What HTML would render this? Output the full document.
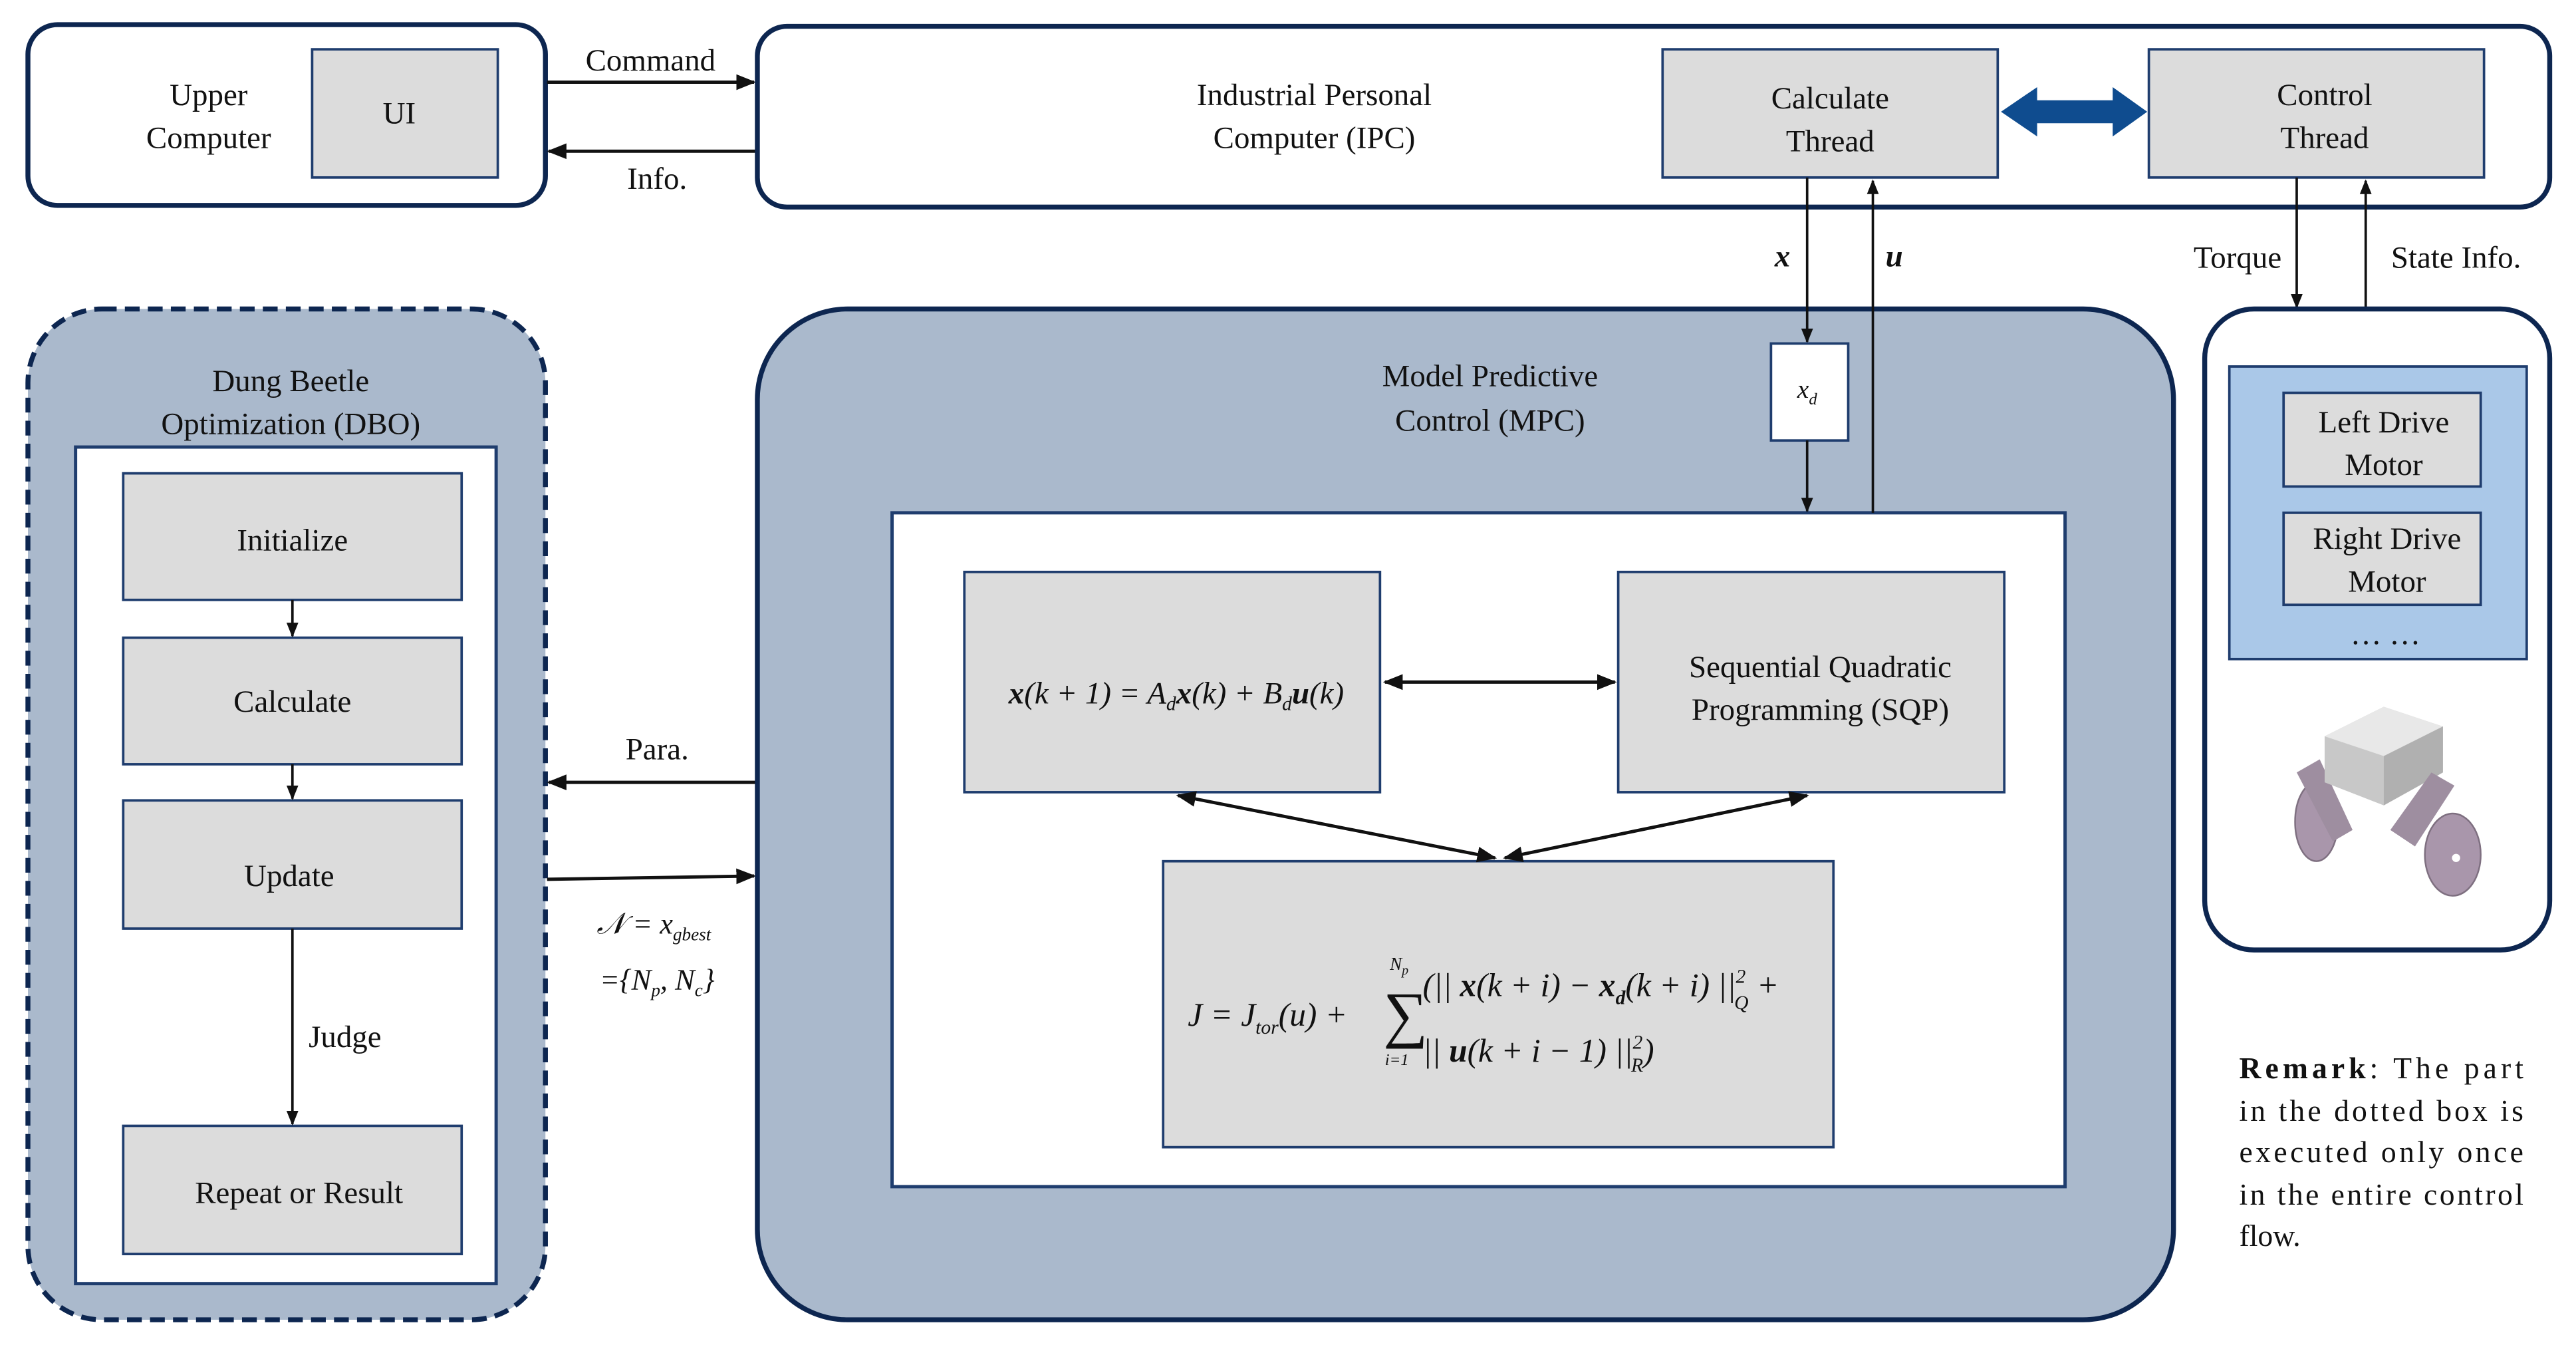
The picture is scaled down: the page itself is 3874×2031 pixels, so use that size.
<!DOCTYPE html>
<html><head><meta charset="utf-8"><style>
html,body{margin:0;padding:0;background:#fff;}
svg{display:block;}
text{font-family:"Liberation Serif",serif;fill:#111;}
</style></head><body>
<svg width="3874" height="2031" viewBox="0 0 1568 822" preserveAspectRatio="none" xmlns="http://www.w3.org/2000/svg">
<defs>
<marker id="a" viewBox="0 0 10 10" refX="9" refY="5" markerWidth="6" markerHeight="6" orient="auto-start-reverse"><path d="M0,1 L10,5 L0,9 z" fill="#111"/></marker>
</defs>
<g font-size="19" text-anchor="middle">
<!-- Upper computer -->
<rect x="17" y="15" width="315" height="110" rx="18" fill="#fff" stroke="#0d2650" stroke-width="3"/>
<text x="127" y="64">Upper</text><text x="127" y="90">Computer</text>
<rect x="190" y="30" width="113" height="78" fill="#dcdcdc" stroke="#1f3d6e" stroke-width="1.5"/>
<text x="243" y="75">UI</text>
<line x1="333" y1="50" x2="459" y2="50" stroke="#111" stroke-width="2" marker-end="url(#a)"/>
<text x="396" y="43">Command</text>
<line x1="460" y1="92" x2="334" y2="92" stroke="#111" stroke-width="2" marker-end="url(#a)"/>
<text x="400" y="115">Info.</text>
<!-- IPC -->
<rect x="461" y="16" width="1091" height="110" rx="18" fill="#fff" stroke="#0d2650" stroke-width="3"/>
<text x="800" y="64">Industrial Personal</text><text x="800" y="90">Computer (IPC)</text>
<rect x="1012" y="30" width="204" height="78" fill="#dcdcdc" stroke="#1f3d6e" stroke-width="1.5"/>
<text x="1114" y="66">Calculate</text><text x="1114" y="92">Thread</text>
<rect x="1308" y="30" width="204" height="78" fill="#dcdcdc" stroke="#1f3d6e" stroke-width="1.5"/>
<text x="1415" y="64">Control</text><text x="1415" y="90">Thread</text>
<path d="M1218,68 L1240,53 L1240,61 L1286,61 L1286,53 L1307,68 L1286,83 L1286,75 L1240,75 L1240,83 Z" fill="#0f4c8f"/>
<text x="1085" y="162" font-style="italic" font-weight="bold">x</text>
<text x="1153" y="162" font-style="italic" font-weight="bold">u</text>
<line x1="1398" y1="108" x2="1398" y2="187" stroke="#111" stroke-width="1.5" marker-end="url(#a)"/>
<text x="1362" y="163">Torque</text>
<line x1="1440" y1="188" x2="1440" y2="110" stroke="#111" stroke-width="1.5" marker-end="url(#a)"/>
<text x="1495" y="163">State Info.</text>
<!-- DBO -->
<rect x="17" y="188" width="315" height="615" rx="45" fill="#aab9cc" stroke="#0d2650" stroke-width="3" stroke-dasharray="9,5"/>
<text x="177" y="238">Dung Beetle</text><text x="177" y="264">Optimization (DBO)</text>
<rect x="46" y="272" width="256" height="509" fill="#fff" stroke="#1f3d6e" stroke-width="2"/>
<rect x="75" y="288" width="206" height="77" fill="#dcdcdc" stroke="#1f3d6e" stroke-width="1.5"/>
<text x="178" y="335">Initialize</text>
<rect x="75" y="388" width="206" height="77" fill="#dcdcdc" stroke="#1f3d6e" stroke-width="1.5"/>
<text x="178" y="433">Calculate</text>
<rect x="75" y="487" width="206" height="78" fill="#dcdcdc" stroke="#1f3d6e" stroke-width="1.5"/>
<text x="176" y="539">Update</text>
<rect x="75" y="685" width="206" height="78" fill="#dcdcdc" stroke="#1f3d6e" stroke-width="1.5"/>
<text x="182" y="732">Repeat or Result</text>
<line x1="178" y1="365" x2="178" y2="387" stroke="#111" stroke-width="1.5" marker-end="url(#a)"/>
<line x1="178" y1="465" x2="178" y2="486" stroke="#111" stroke-width="1.5" marker-end="url(#a)"/>
<line x1="178" y1="565" x2="178" y2="684" stroke="#111" stroke-width="1.5" marker-end="url(#a)"/>
<text x="210" y="637">Judge</text>
<!-- Para arrows -->
<line x1="460" y1="476" x2="334" y2="476" stroke="#111" stroke-width="2" marker-end="url(#a)"/>
<text x="400" y="462">Para.</text>
<line x1="333" y1="535" x2="459" y2="533" stroke="#111" stroke-width="2" marker-end="url(#a)"/>
<text x="398" y="568" font-style="italic" font-size="18" fill="#333">𝒩 = x<tspan font-size="11" dy="4">gbest</tspan></text>
<text x="400" y="602" font-style="italic" font-size="18" fill="#333">={N<tspan font-size="11" dy="4">p</tspan><tspan dy="-4">, N</tspan><tspan font-size="11" dy="4">c</tspan><tspan dy="-4">}</tspan></text>
<!-- MPC -->
<rect x="461" y="188" width="862" height="615" rx="55" fill="#aab9cc" stroke="#0d2650" stroke-width="3"/>
<text x="907" y="235">Model Predictive</text><text x="907" y="262">Control (MPC)</text>
<line x1="1100" y1="108" x2="1100" y2="208" stroke="#111" stroke-width="1.5" marker-end="url(#a)"/>
<rect x="1078" y="209" width="47" height="59" fill="#fff" stroke="#1f3d6e" stroke-width="1.5"/>
<text x="1100" y="242" font-style="italic" font-size="16">x<tspan font-size="10" dy="4">d</tspan></text>
<rect x="543" y="312" width="714" height="410" fill="#fff" stroke="#1f3d6e" stroke-width="2"/>
<line x1="1100" y1="268" x2="1100" y2="311" stroke="#111" stroke-width="1.5" marker-end="url(#a)"/>
<line x1="1140" y1="312" x2="1140" y2="110" stroke="#111" stroke-width="1.5" marker-end="url(#a)"/>
<rect x="587" y="348" width="253" height="134" fill="#dcdcdc" stroke="#1f3d6e" stroke-width="1.5"/>
<text x="716" y="428" font-style="italic" font-size="19"><tspan font-weight="bold">x</tspan>(k + 1) = A<tspan font-size="12" dy="4">d</tspan><tspan dy="-4" font-weight="bold">x</tspan>(k) + B<tspan font-size="12" dy="4">d</tspan><tspan dy="-4" font-weight="bold">u</tspan>(k)</text>
<rect x="985" y="348" width="235" height="134" fill="#dcdcdc" stroke="#1f3d6e" stroke-width="1.5"/>
<text x="1108" y="412">Sequential Quadratic</text><text x="1108" y="438">Programming (SQP)</text>
<line x1="843" y1="415" x2="983" y2="415" stroke="#111" stroke-width="2" marker-start="url(#a)" marker-end="url(#a)"/>
<rect x="708" y="524" width="408" height="174" fill="#dcdcdc" stroke="#1f3d6e" stroke-width="1.5"/>
<line x1="717" y1="484" x2="910" y2="522" stroke="#111" stroke-width="2" marker-start="url(#a)" marker-end="url(#a)"/>
<line x1="1100" y1="484" x2="916" y2="522" stroke="#111" stroke-width="2" marker-start="url(#a)" marker-end="url(#a)"/>
<g font-style="italic" text-anchor="start" font-size="20">
<text x="723" y="624">J = J<tspan font-size="12" dy="5">tor</tspan><tspan dy="-5">(u) +</tspan></text>
<text x="842" y="630" font-size="38" font-style="normal">∑</text>
<text x="846" y="590" font-size="11">N<tspan font-size="8" dy="3">p</tspan></text>
<text x="843" y="648" font-size="10">i=1</text>
<text x="866" y="606">(|| <tspan font-weight="bold">x</tspan>(k + i) − <tspan font-weight="bold">x</tspan><tspan font-size="12" dy="5" font-weight="bold">d</tspan><tspan dy="-5">(k + i) ||</tspan><tspan font-size="12" dy="-8">2</tspan><tspan font-size="12" dx="-7" dy="16">Q</tspan><tspan dy="-8"> +</tspan></text>
<text x="866" y="646">|| <tspan font-weight="bold">u</tspan>(k + i − 1) ||<tspan font-size="12" dy="-8">2</tspan><tspan font-size="12" dx="-7" dy="14">R</tspan><tspan dy="-6">)</tspan></text>
</g>
<!-- right box -->
<rect x="1342" y="188" width="210" height="390" rx="30" fill="#fff" stroke="#0d2650" stroke-width="3"/>
<rect x="1357" y="223" width="181" height="178" fill="#aac8e8" stroke="#1f3d6e" stroke-width="1.5"/>
<rect x="1390" y="239" width="120" height="57" fill="#dcdcdc" stroke="#1f3d6e" stroke-width="1.5"/>
<text x="1451" y="263">Left Drive</text><text x="1451" y="289">Motor</text>
<rect x="1390" y="312" width="120" height="56" fill="#dcdcdc" stroke="#1f3d6e" stroke-width="1.5"/>
<text x="1453" y="334">Right Drive</text><text x="1453" y="360">Motor</text>
<text x="1452" y="392">… …</text>
<!-- robot -->
<g>
<ellipse cx="1410" cy="500" rx="13" ry="24" fill="#a996ab" stroke="#7e6f80"/>
<path d="M1398,470 L1412,462 L1432,505 L1420,512 Z" fill="#9e8ea0"/>
<path d="M1415,448 L1451,430 L1487,442 L1487,470 L1451,490 L1415,476 Z" fill="#c8c8c8"/>
<path d="M1415,448 L1451,430 L1487,442 L1451,460 Z" fill="#e8e8e8"/>
<path d="M1451,460 L1487,442 L1487,470 L1451,490 Z" fill="#b0b0b0"/>
<path d="M1455,505 L1480,470 L1494,478 L1470,515 Z" fill="#9e8ea0"/>
<ellipse cx="1493" cy="520" rx="17" ry="25" fill="#a996ab" stroke="#7e6f80"/>
<circle cx="1495" cy="522" r="2.5" fill="#fff"/>
</g>
<!-- remark -->
<g text-anchor="start" font-size="18.5">
<text x="1363" y="656" textLength="173"><tspan font-weight="bold">Remark</tspan>: The part</text>
<text x="1363" y="682" textLength="173">in the dotted box is</text>
<text x="1363" y="707" textLength="173">executed only once</text>
<text x="1363" y="733" textLength="173">in the entire control</text>
<text x="1363" y="758">flow.</text>
</g>
</g>
</svg>
</body></html>
